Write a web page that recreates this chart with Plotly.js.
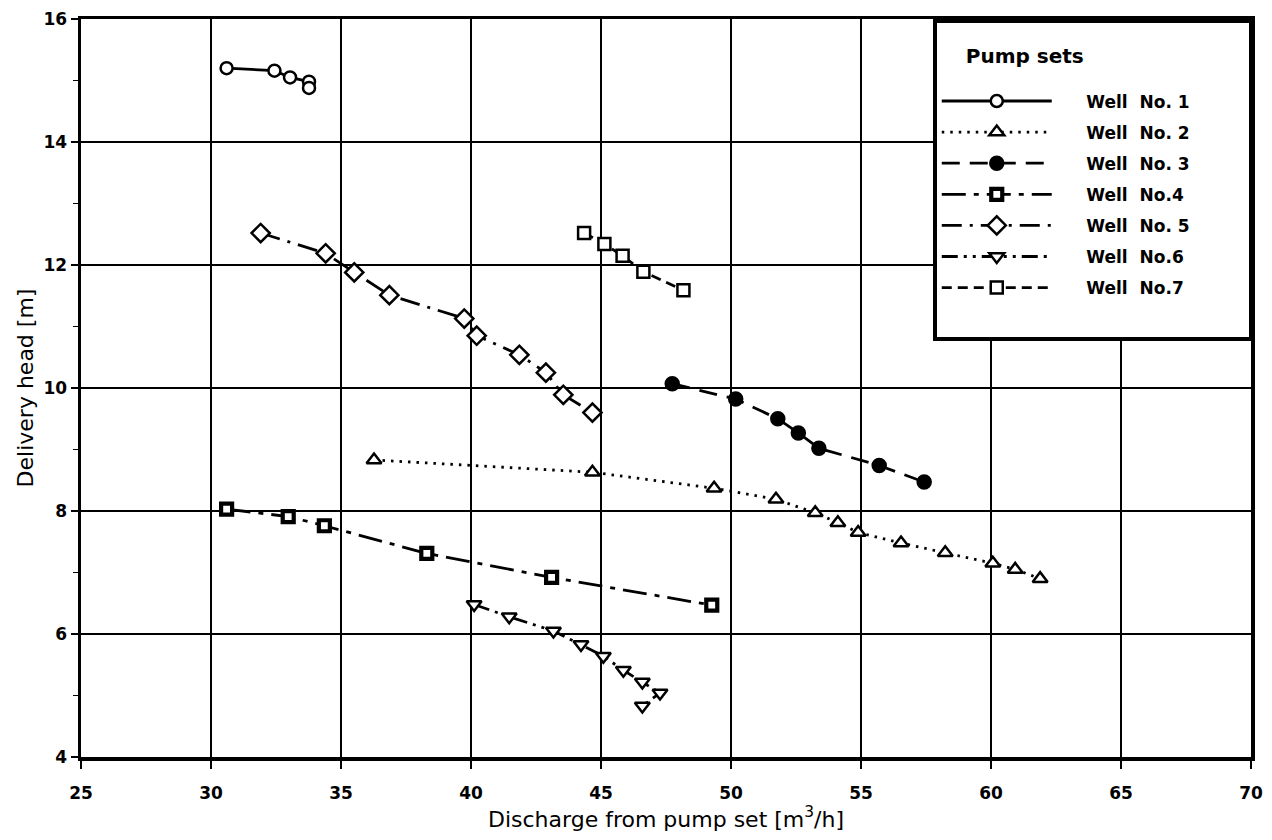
<!DOCTYPE html>
<html>
<head>
<meta charset="utf-8">
<script src="https://cdn.plot.ly/plotly-3.0.1.min.js"></script>
<style>html,body{margin:0;padding:0;background:#fff;}#chart{width:1272px;height:840px;}</style>
</head>
<body>
<div id="chart"></div>
<script>
// Discharge [m3/h] and delivery head [m] for each well
const well1X = [30.6, 32.44, 33.04, 33.77, 33.77];
const well1Y = [15.2, 15.16, 15.05, 14.98, 14.88];

const well2X = [36.27, 44.67, 49.35, 51.73, 53.24, 54.11, 54.89, 56.54, 58.24, 60.07, 60.93, 61.89];
const well2Y = [8.83, 8.63, 8.37, 8.19, 7.97, 7.81, 7.65, 7.48, 7.32, 7.15, 7.05, 6.90];

const well3X = [47.74, 50.18, 51.80, 52.59, 53.38, 55.70, 57.43];
const well3Y = [10.07, 9.82, 9.50, 9.27, 9.02, 8.74, 8.47];

const well4X = [30.60, 32.97, 34.36, 38.30, 43.10, 49.26];
const well4Y = [8.03, 7.91, 7.76, 7.31, 6.92, 6.47];

const well5X = [31.91, 34.41, 35.51, 36.86, 39.74, 40.22, 41.86, 42.88, 43.55, 44.67];
const well5Y = [12.52, 12.19, 11.88, 11.51, 11.13, 10.85, 10.54, 10.25, 9.89, 9.60];

const well6X = [40.12, 41.47, 43.17, 44.23, 45.09, 45.86, 46.59, 47.27, 46.59];
const well6Y = [6.48, 6.28, 6.05, 5.83, 5.64, 5.41, 5.22, 5.04, 4.83];

const well7X = [44.35, 45.13, 45.83, 46.63, 48.17];
const well7Y = [12.52, 12.34, 12.15, 11.89, 11.59];

const wellNames = ['Well\u00a0\u00a0No. 1', 'Well\u00a0\u00a0No. 2', 'Well\u00a0\u00a0No. 3', 'Well\u00a0\u00a0No.4', 'Well\u00a0\u00a0No. 5', 'Well\u00a0\u00a0No.6', 'Well\u00a0\u00a0No.7'];
const legendTitle = 'Pump sets';

const xTicks = [25, 30, 35, 40, 45, 50, 55, 60, 65, 70];
const yTicks = [4, 6, 8, 10, 12, 14, 16];

const FONT = 'DejaVu Sans, sans-serif';
const NB = '\u00a0';

function series(i, x, y, dash, symbol, fill, size) {
  return {
    x: x, y: y, type: 'scatter', mode: 'lines+markers',
    name: NB.repeat(5) + wellNames[i] + NB.repeat(9),
    legendgroup: 'g' + i,
    line: {color: '#000', width: 2.8, dash: dash},
    marker: {symbol: symbol, size: size, color: fill, line: {color: '#000', width: 2.5}},
    cliponaxis: false
  };
}

const data = [
  series(0, well1X, well1Y, 'solid', 'circle', '#fff', 12),
  series(1, well2X, well2Y, '2.5px,6px', 'triangle-up', '#fff', 13),
  series(2, well3X, well3Y, '18px,10px', 'circle', '#000', 13),
  series(3, well4X, well4Y, '24px,8px,5px,8px', 'square', '#fff', 11),
  series(4, well5X, well5Y, '20px,8px,3px,8px', 'diamond', '#fff', 14),
  series(5, well6X, well6Y, '16px,6px,3px,6px,3px,6px', 'triangle-down', '#fff', 13),
  series(6, well7X, well7Y, '10px,6px', 'square', '#fff', 12)
];
data[3].marker.line.width = 4.2;
// blank legend row that gives the legend box its lower margin
data.push({x: [null], y: [null], type: 'scatter', mode: 'lines', name: NB, legendgroup: 'g7',
           line: {color: 'rgba(0,0,0,0)', width: 0}, hoverinfo: 'skip'});

const layout = {
  width: 1272, height: 840,
  margin: {l: 81, r: 21, t: 19, b: 83},
  paper_bgcolor: '#fff', plot_bgcolor: '#fff',
  font: {family: FONT, color: '#000', size: 16},
  showlegend: true,
  legend: {
    x: 0.728, y: 1, xanchor: 'left', yanchor: 'top',
    bgcolor: '#fff', bordercolor: '#000', borderwidth: 4,
    font: {family: FONT, size: 17, color: '#000', weight: 'bold'},
    title: {text: NB + '<br>' + NB.repeat(5) + '<span style="font-size:20px">' + legendTitle + '</span><br>' + NB,
            font: {family: FONT, size: 15.5, color: '#000', weight: 'bold'}},
    tracegroupgap: 6,
    itemwidth: 110,
    itemclick: false, itemdoubleclick: false
  },
  xaxis: {
    range: [25, 70], tickvals: xTicks, ticktext: xTicks.map(String),
    showgrid: true, gridcolor: '#000', gridwidth: 2,
    zeroline: false, showline: true, linecolor: '#000', linewidth: 3.5, mirror: true,
    ticks: 'outside', ticklen: 8, tickwidth: 1.5, tickcolor: '#000',
    ticklabelstandoff: 10,
    tickfont: {family: FONT, size: 17, weight: 'bold'},
    title: {text: 'Discharge from pump set [m<sup>3</sup>/h]', font: {family: FONT, size: 22}, standoff: 10}
  },
  yaxis: {
    range: [4, 16], tickvals: yTicks, ticktext: yTicks.map(String),
    showgrid: true, gridcolor: '#000', gridwidth: 2,
    zeroline: false, showline: true, linecolor: '#000', linewidth: 3.5, mirror: true,
    ticks: 'outside', ticklen: 7, tickwidth: 1.5, tickcolor: '#000',
    minor: {dtick: 1, tick0: 4, ticks: 'outside', ticklen: 5, tickwidth: 1.5, tickcolor: '#000', showgrid: false},
    tickfont: {family: FONT, size: 17, weight: 'bold'},
    title: {text: 'Delivery head [m]', font: {family: FONT, size: 22}, standoff: 4}
  }
};

Plotly.newPlot('chart', data, layout, {displayModeBar: false, staticPlot: true});
</script>
</body>
</html>
